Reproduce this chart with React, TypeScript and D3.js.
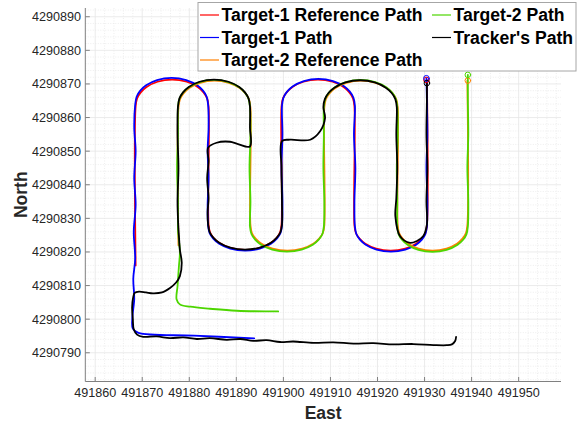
import React from "react";
import * as d3 from "d3";

type P = [number, number];

const xTicks = [491860, 491870, 491880, 491890, 491900, 491910, 491920, 491930, 491940, 491950];
const yTicks = [4290790, 4290800, 4290810, 4290820, 4290830, 4290840, 4290850, 4290860, 4290870, 4290880, 4290890];
const xDomain: [number, number] = [491857.9, 491959];
const yDomain: [number, number] = [4290781.45, 4290892.6];

const target1Ref: P[] = [
  [491868.6, 4290816.0], [491868.6, 4290863.3],
  [491868.91, 4290865.7], [491869.69, 4290867.5], [491870.93, 4290869.1], [491873.25, 4290870.65], [491876.35, 4290871.3], [491879.45, 4290870.65], [491881.78, 4290869.1], [491883.02, 4290867.5], [491883.79, 4290865.7], [491884.1, 4290863.3],
  [491884.1, 4290828.1],
  [491884.41, 4290825.85], [491885.19, 4290824.15], [491886.43, 4290822.65], [491888.75, 4290821.2], [491891.85, 4290820.6], [491894.95, 4290821.2], [491897.28, 4290822.65], [491898.52, 4290824.15], [491899.29, 4290825.85], [491899.6, 4290828.1],
  [491899.6, 4290863.3],
  [491899.91, 4290865.7], [491900.69, 4290867.5], [491901.93, 4290869.1], [491904.25, 4290870.65], [491907.35, 4290871.3], [491910.45, 4290870.65], [491912.78, 4290869.1], [491914.02, 4290867.5], [491914.79, 4290865.7], [491915.1, 4290863.3],
  [491915.1, 4290827.9],
  [491915.41, 4290825.65], [491916.18, 4290823.95], [491917.41, 4290822.45], [491919.72, 4290821.0], [491922.8, 4290820.4], [491925.88, 4290821.0], [491928.19, 4290822.45], [491929.42, 4290823.95], [491930.19, 4290825.65], [491930.5, 4290827.9],
  [491930.5, 4290871.2],
];

const target1Path: P[] = [
  [491893.8, 4290794.3], [491881.0, 4290795.1], [491869.2, 4290795.9], [491868.0, 4290797.2], [491867.9, 4290800.5], [491868.3, 4290806.0], [491868.1, 4290812.0], [491868.5, 4290818.0], [491868.2, 4290826.0], [491868.6, 4290834.0], [491868.3, 4290842.0], [491868.6, 4290850.0], [491868.3, 4290857.0], [491868.5, 4290863.8],
  [491868.81, 4290866.2], [491869.59, 4290868.0], [491870.83, 4290869.6], [491873.15, 4290871.15], [491876.25, 4290871.8], [491879.35, 4290871.15], [491881.68, 4290869.6], [491882.92, 4290868.0], [491883.69, 4290866.2], [491884.0, 4290863.8],
  [491884.1, 4290857.0], [491883.9, 4290850.0], [491884.1, 4290842.0], [491883.9, 4290834.0], [491884.0, 4290827.9],
  [491884.31, 4290825.65], [491885.1, 4290823.95], [491886.36, 4290822.45], [491888.71, 4290821.0], [491891.85, 4290820.4], [491894.99, 4290821.0], [491897.35, 4290822.45], [491898.6, 4290823.95], [491899.39, 4290825.65], [491899.7, 4290827.9],
  [491899.8, 4290835.0], [491899.6, 4290845.0], [491899.8, 4290855.0], [491899.7, 4290863.5],
  [491900.01, 4290865.9], [491900.79, 4290867.7], [491902.03, 4290869.3], [491904.35, 4290870.85], [491907.45, 4290871.5], [491910.55, 4290870.85], [491912.88, 4290869.3], [491914.12, 4290867.7], [491914.89, 4290865.9], [491915.2, 4290863.5],
  [491915.0, 4290855.0], [491915.3, 4290845.0], [491915.1, 4290835.0], [491915.2, 4290827.6],
  [491915.51, 4290825.35], [491916.27, 4290823.65], [491917.5, 4290822.15], [491919.79, 4290820.7], [491922.85, 4290820.1], [491925.91, 4290820.7], [491928.21, 4290822.15], [491929.43, 4290823.65], [491930.19, 4290825.35], [491930.5, 4290827.6],
  [491930.6, 4290835.0], [491930.4, 4290845.0], [491930.6, 4290855.0], [491930.5, 4290865.0], [491930.4, 4290871.7],
];

const target2Ref: P[] = [
  [491877.7, 4290822.0], [491877.7, 4290863.0],
  [491878.01, 4290865.4], [491878.77, 4290867.2], [491880.0, 4290868.8], [491882.29, 4290870.35], [491885.35, 4290871.0], [491888.41, 4290870.35], [491890.71, 4290868.8], [491891.93, 4290867.2], [491892.69, 4290865.4], [491893.0, 4290863.0],
  [491893.0, 4290827.9],
  [491893.31, 4290825.65], [491894.1, 4290823.95], [491895.36, 4290822.45], [491897.71, 4290821.0], [491900.85, 4290820.4], [491903.99, 4290821.0], [491906.35, 4290822.45], [491907.6, 4290823.95], [491908.39, 4290825.65], [491908.7, 4290827.9],
  [491908.7, 4290863.0],
  [491909.01, 4290865.4], [491909.79, 4290867.2], [491911.04, 4290868.8], [491913.38, 4290870.35], [491916.5, 4290871.0], [491919.62, 4290870.35], [491921.96, 4290868.8], [491923.21, 4290867.2], [491923.99, 4290865.4], [491924.3, 4290863.0],
  [491924.3, 4290827.9],
  [491924.6, 4290825.65], [491925.34, 4290823.95], [491926.52, 4290822.45], [491928.74, 4290821.0], [491931.7, 4290820.4], [491934.66, 4290821.0], [491936.88, 4290822.45], [491938.06, 4290823.95], [491938.8, 4290825.65], [491939.1, 4290827.9],
  [491939.1, 4290871.0],
];

const target2Path: P[] = [
  [491898.9, 4290802.3], [491890.1, 4290802.5], [491884.4, 4290803.1], [491880.2, 4290803.7], [491878.0, 4290804.4], [491877.3, 4290805.9], [491877.5, 4290809.8], [491877.8, 4290815.8], [491878.0, 4290819.8], [491877.6, 4290826.7], [491877.6, 4290835.0], [491877.4, 4290845.0], [491877.6, 4290855.0], [491877.6, 4290863.2],
  [491877.91, 4290865.6], [491878.67, 4290867.4], [491879.9, 4290869.0], [491882.19, 4290870.55], [491885.25, 4290871.2], [491888.31, 4290870.55], [491890.61, 4290869.0], [491891.83, 4290867.4], [491892.59, 4290865.6], [491892.9, 4290863.2],
  [491893.0, 4290855.0], [491892.8, 4290845.0], [491893.0, 4290835.0], [491892.9, 4290827.6],
  [491893.21, 4290825.35], [491894.0, 4290823.65], [491895.26, 4290822.15], [491897.61, 4290820.7], [491900.75, 4290820.1], [491903.89, 4290820.7], [491906.25, 4290822.15], [491907.5, 4290823.65], [491908.29, 4290825.35], [491908.6, 4290827.6],
  [491908.7, 4290835.0], [491908.5, 4290845.0], [491908.6, 4290855.0], [491908.6, 4290863.2],
  [491908.91, 4290865.6], [491909.69, 4290867.4], [491910.94, 4290869.0], [491913.28, 4290870.55], [491916.4, 4290871.2], [491919.52, 4290870.55], [491921.86, 4290869.0], [491923.11, 4290867.4], [491923.89, 4290865.6], [491924.2, 4290863.2],
  [491924.3, 4290855.0], [491924.1, 4290845.0], [491924.2, 4290835.0], [491924.2, 4290827.5],
  [491924.5, 4290825.25], [491925.25, 4290823.55], [491926.45, 4290822.05], [491928.7, 4290820.6], [491931.7, 4290820.0], [491934.7, 4290820.6], [491936.95, 4290822.05], [491938.15, 4290823.55], [491938.9, 4290825.25], [491939.2, 4290827.5],
  [491939.3, 4290835.0], [491939.1, 4290845.0], [491939.3, 4290855.0], [491939.2, 4290865.0], [491939.2, 4290872.7],
];

const trackerPath: P[] = [
  [491936.7, 4290794.7], [491936.5, 4290793.5], [491935.8, 4290792.5], [491934.7, 4290792.25], [491931.9, 4290792.3], [491927.6, 4290792.6], [491923.4, 4290792.5], [491919.1, 4290792.85], [491914.9, 4290792.75], [491910.6, 4290793.1], [491906.4, 4290792.95], [491902.1, 4290793.35], [491899.3, 4290793.2], [491896.45, 4290793.75], [491893.6, 4290793.55], [491890.8, 4290794.1], [491887.95, 4290793.85], [491884.4, 4290794.35], [491881.6, 4290794.1], [491878.7, 4290794.6], [491875.9, 4290794.35], [491873.1, 4290794.85], [491870.2, 4290794.75], [491868.9, 4290795.4],
  [491868.2, 4290797.0], [491868.0, 4290800.0], [491867.85, 4290803.5], [491868.05, 4290806.3], [491868.4, 4290807.8], [491869.3, 4290808.2],
  [491870.8, 4290807.95], [491872.3, 4290807.7], [491874.2, 4290807.95], [491875.9, 4290809.3], [491877.2, 4290810.9], [491878.0, 4290812.8], [491878.4, 4290816.8], [491878.0, 4290820.7], [491877.8, 4290824.7], [491877.65, 4290828.2],
  [491877.5, 4290835.0], [491877.7, 4290845.0], [491877.5, 4290855.0], [491877.6, 4290863.3],
  [491877.91, 4290865.7], [491878.67, 4290867.5], [491879.9, 4290869.1], [491882.19, 4290870.65], [491885.25, 4290871.3], [491888.31, 4290870.65], [491890.61, 4290869.1], [491891.83, 4290867.5], [491892.59, 4290865.7], [491892.9, 4290863.3],
  [491892.9, 4290857.0], [491892.9, 4290851.4], [491890.2, 4290852.2], [491888.65, 4290852.8], [491885.8, 4290852.5], [491884.0, 4290851.0],
  [491884.1, 4290847.0], [491883.8, 4290842.0], [491884.1, 4290836.0], [491883.9, 4290832.0], [491884.0, 4290828.2],
  [491884.31, 4290825.95], [491885.1, 4290824.25], [491886.36, 4290822.75], [491888.71, 4290821.3], [491891.85, 4290820.7], [491894.99, 4290821.3], [491897.35, 4290822.75], [491898.6, 4290824.25], [491899.39, 4290825.95], [491899.7, 4290828.2],
  [491899.7, 4290835.0], [491899.6, 4290845.0], [491899.7, 4290853.0], [491901.4, 4290853.4], [491905.7, 4290853.4], [491907.8, 4290855.9], [491908.85, 4290859.8], [491908.5, 4290863.1],
  [491908.81, 4290865.5], [491909.59, 4290867.3], [491910.84, 4290868.9], [491913.18, 4290870.45], [491916.3, 4290871.1], [491919.42, 4290870.45], [491921.76, 4290868.9], [491923.01, 4290867.3], [491923.79, 4290865.5], [491924.1, 4290863.1],
  [491924.0, 4290855.0], [491924.2, 4290845.0], [491924.0, 4290836.0], [491923.8, 4290830.6], [491924.8, 4290824.65], [491926.9, 4290822.7], [491928.3, 4290823.2], [491929.7, 4290824.65], [491930.5, 4290828.1],
  [491930.4, 4290835.0], [491930.6, 4290845.0], [491930.4, 4290855.0], [491930.5, 4290865.0], [491930.5, 4290870.25],
];

const seriesNames = ["Target-1 Reference Path", "Target-1 Path", "Target-2 Reference Path", "Target-2 Path", "Tracker's Path"];
const seriesColors = ["#ff0000", "#0000ff", "#ff8000", "#4dd600", "#000000"];
const seriesData = [target1Ref, target1Path, target2Ref, target2Path, trackerPath];
const endMarkers: P[] = [
  [491930.4, 4290871.2],
  [491930.4, 4290871.7],
  [491939.2, 4290871.0],
  [491939.2, 4290872.7],
  [491930.5, 4290870.25],
];

const W = 585, H = 423;
const L = 85.3, R = 561, T = 8, B = 381.5;
const FONT = "'Liberation Sans', Arial, Helvetica, sans-serif";

export default function App() {
  const x = d3.scaleLinear().domain(xDomain).range([L, R]);
  const y = d3.scaleLinear().domain(yDomain).range([B, T]);
  const line = d3.line<P>().x(d => x(d[0])).y(d => y(d[1])).curve(d3.curveCatmullRom.alpha(0.5));

  const minorX = d3.range(491858, 491959, 2).filter(v => v % 10 !== 0);
  const minorY = d3.range(4290782, 4290893, 2).filter(v => v % 10 !== 0);

  const legendRows = [
    { i: 0, lx: 200, ly: 15 },
    { i: 1, lx: 200, ly: 37.5 },
    { i: 2, lx: 200, ly: 60 },
    { i: 3, lx: 432, ly: 15 },
    { i: 4, lx: 432, ly: 37.5 },
  ];

  return (
    <svg width={W} height={H} style={{ position: "absolute", left: 0, top: 0, background: "#fff" }} fontFamily={FONT}>
      <rect x={0} y={0} width={W} height={H} fill="#fff" />
      <defs>
        <clipPath id="plotclip">
          <rect x={L} y={T} width={R - L} height={B - T} />
        </clipPath>
      </defs>
      <g stroke="#e2e2e2" strokeWidth={0.6} strokeDasharray="1,1.5">
        {minorX.map(v => <line key={"mx" + v} x1={x(v)} x2={x(v)} y1={T} y2={B} />)}
        {minorY.map(v => <line key={"my" + v} x1={L} x2={R} y1={y(v)} y2={y(v)} />)}
      </g>
      <g stroke="#e6e6e6" strokeWidth={0.8}>
        {xTicks.map(v => <line key={"gx" + v} x1={x(v)} x2={x(v)} y1={T} y2={B} />)}
        {yTicks.map(v => <line key={"gy" + v} x1={L} x2={R} y1={y(v)} y2={y(v)} />)}
      </g>
      <g clipPath="url(#plotclip)" fill="none" strokeLinejoin="round" strokeLinecap="round">
        {seriesData.map((d, i) => (
          <path key={"s" + i} d={line(d) || ""} stroke={seriesColors[i]} strokeWidth={1.8} />
        ))}
        {endMarkers.map((m, i) => (
          <circle key={"m" + i} cx={x(m[0])} cy={y(m[1])} r={2.8} stroke={seriesColors[i]} strokeWidth={1} fill="none" />
        ))}
      </g>
      <g stroke="#808080" strokeWidth={1}>
        <line x1={L} x2={L} y1={T} y2={B} />
        <line x1={L} x2={R} y1={B} y2={B} />
        {xTicks.map(v => <line key={"tx" + v} x1={x(v)} x2={x(v)} y1={B} y2={B - 4.5} />)}
        {yTicks.map(v => <line key={"ty" + v} x1={L} x2={L + 4.5} y1={y(v)} y2={y(v)} />)}
      </g>
      <g fill="#262626" fontSize={12.6}>
        {xTicks.map(v => (
          <text key={"lx" + v} x={x(v)} y={397} textAnchor="middle">{v}</text>
        ))}
        {yTicks.map(v => (
          <text key={"ly" + v} x={81} y={y(v) + 4.5} textAnchor="end">{v}</text>
        ))}
      </g>
      <text x={(L + R) / 2} y={419} textAnchor="middle" fontSize={17.5} fontWeight="bold" fill="#262626">East</text>
      <text transform={`translate(27,${(T + B) / 2}) rotate(-90)`} textAnchor="middle" fontSize={17.5} fontWeight="bold" fill="#262626">North</text>
      <rect x={198} y={2.5} width={378} height={68.5} fill="#fff" stroke="#a6a6a6" strokeWidth={1} />
      {legendRows.map(r => (
        <g key={"lg" + r.i}>
          <line x1={r.lx} x2={r.lx + 19} y1={r.ly} y2={r.ly} stroke={seriesColors[r.i]} strokeWidth={1.2} />
          <text x={r.lx + 21.5} y={r.ly + 6.3} fontSize={17.6} fontWeight="bold" fill="#000">{seriesNames[r.i]}</text>
        </g>
      ))}
    </svg>
  );
}
